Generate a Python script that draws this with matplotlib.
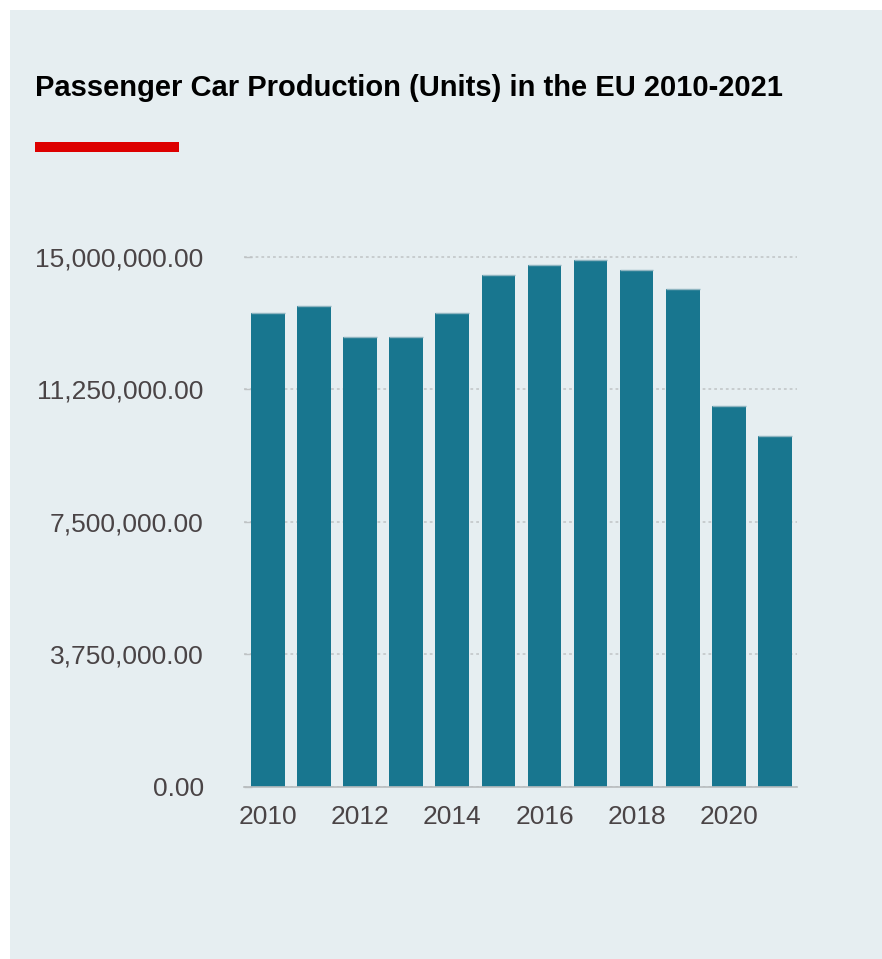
import matplotlib
matplotlib.use("Agg")
import matplotlib.pyplot as plt
from matplotlib.patches import Rectangle
from matplotlib.ticker import FuncFormatter
import numpy as np

years = [2010, 2011, 2012, 2013, 2014, 2015, 2016, 2017, 2018, 2019, 2020, 2021]
production = [13410000, 13620000, 12730000, 12730000, 13410000, 14480000,
              14770000, 14920000, 14620000, 14090000, 10780000, 9930000]
y_ticks = [0, 3750000, 7500000, 11250000, 15000000]
x_labels = ["2010", "", "2012", "", "2014", "", "2016", "", "2018", "", "2020", ""]

bar_color = "#18768f"
panel_color = "#e6eef1"
text_color = "#4a4446"

plt.rcParams['font.family'] = ['Liberation Sans', 'DejaVu Sans']

W, H = 882, 959
fig = plt.figure(figsize=(W / 100, H / 100), dpi=100, facecolor="white")

# light panel behind everything
fig.patches.append(Rectangle((10 / W, 0), 1, 1 - 10 / H, transform=fig.transFigure,
                             facecolor=panel_color, edgecolor="none", zorder=-2))

# title and red accent bar
fig.text(35 / W, 1 - 96 / H, "Passenger Car Production (Units) in the EU 2010-2021",
         fontsize=21, fontweight="bold", color="black", va="baseline", ha="left")
fig.patches.append(Rectangle((35 / W, 1 - 152 / H), 144 / W, 10 / H,
                             transform=fig.transFigure, facecolor="#dd0000",
                             edgecolor="none", zorder=-1))

ax = fig.add_axes([244 / W, 1 - 787 / H, 553 / W, (787 - 239.3) / H])
ax.set_facecolor("none")

x = np.arange(len(years))
ax.bar(x, production, width=0.73, color=bar_color, zorder=3)
# thin lighter rim on top of each bar
ax.hlines(production, x - 0.365, x + 0.365, color="#8fb5c1", lw=1, zorder=4)

ax.set_xlim(-0.52, 11.48)
ax.set_ylim(0, 15500000)
ax.set_yticks(y_ticks)
ax.yaxis.set_major_formatter(FuncFormatter(lambda v, p: f"{v:,.2f}"))
ax.set_xticks(x)
ax.set_xticklabels(x_labels)

ax.grid(axis="y", color="#bfc3c5", linestyle=(0, (1.8, 2)), linewidth=1.1, zorder=1)
for s in ["top", "right", "left"]:
    ax.spines[s].set_visible(False)
ax.spines["bottom"].set_color("#b8bcbe")
ax.spines["bottom"].set_linewidth(1.2)
ax.spines["bottom"].set_zorder(5)

ax.tick_params(axis="y", direction="in", length=6, width=1, color="#bfc3c5",
               pad=29, labelsize=19, labelcolor=text_color)
ax.tick_params(axis="x", length=0, pad=13, labelsize=19, labelcolor=text_color)

fig.savefig("out.png", dpi=100, facecolor="white")
